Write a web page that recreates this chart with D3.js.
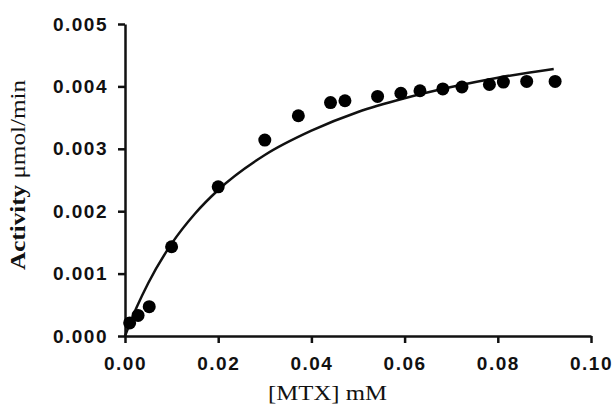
<!DOCTYPE html>
<html>
<head>
<meta charset="utf-8">
<script src="https://cdn.jsdelivr.net/npm/d3@7"></script>
<style>
  body { margin: 0; background: #fff; }
  .tick text { font-family: "Liberation Sans", Arial, sans-serif; font-weight: bold; font-size: 19px; fill: #111; }
</style>
</head>
<body>
<div id="chart-container"></div>
<script>
/* CONSTANTS AND GLOBALS */
const width = 615,
  height = 414;

// measured substrate concentrations (mM) and activities (umol/min)
const mtx = [0.001, 0.0028, 0.0052, 0.010, 0.020, 0.030, 0.0372, 0.0441, 0.0472, 0.0542,
  0.0592, 0.0633, 0.0682, 0.0723, 0.0782, 0.0812, 0.0862, 0.0923];
const activity = [0.00021, 0.00033, 0.00047, 0.00143, 0.00239, 0.00314, 0.00353, 0.00374, 0.00377, 0.00384,
  0.00389, 0.00393, 0.00396, 0.00399, 0.00403, 0.00407, 0.00408, 0.00408];

// fitted curve
const fitX = [0, 0.0025, 0.005, 0.01, 0.015, 0.02, 0.03, 0.04, 0.05, 0.06, 0.07, 0.08, 0.092];
const fitY = [0, 0.00046, 0.00085, 0.00148, 0.00196, 0.00234, 0.00290, 0.00329, 0.00359, 0.00381, 0.00399, 0.00414, 0.00428];

const xTicks = [0, 0.02, 0.04, 0.06, 0.08, 0.10];
const yTicks = [0, 0.001, 0.002, 0.003, 0.004, 0.005];

const points = mtx.map((x, i) => ({ x: x, y: activity[i] }));
const fit = fitX.map((x, i) => ({ x: x, y: fitY[i] }));

const svg = d3.select("#chart-container")
  .append("svg")
  .attr("width", width)
  .attr("height", height);

const xScale = d3.scaleLinear()
  .domain([0, 0.10])
  .range([125, 591]);

const yScale = d3.scaleLinear()
  .domain([0, 0.005])
  .range([336, 24]);

// + AXES
const xAxisGroup = svg.append("g")
  .attr("transform", `translate(0, ${yScale(0)})`)
  .call(d3.axisBottom(xScale)
    .tickValues(xTicks)
    .tickFormat(d3.format(".2f"))
    .tickSizeInner(7)
    .tickSizeOuter(0)
    .tickPadding(13));

const yAxisGroup = svg.append("g")
  .attr("transform", `translate(${xScale(0)}, 0)`)
  .call(d3.axisLeft(yScale)
    .tickValues(yTicks)
    .tickFormat(d3.format(".3f"))
    .tickSizeInner(7)
    .tickSizeOuter(0)
    .tickPadding(10));

svg.selectAll(".domain, .tick line")
  .attr("stroke", "#111")
  .attr("stroke-width", 2.5);

svg.selectAll(".tick text").attr("letter-spacing", "1.5px");
xAxisGroup.selectAll(".tick text").attr("dy", "0.75em");

// fitted line
const lineGen = d3.line()
  .x(d => xScale(d.x))
  .y(d => yScale(d.y))
  .curve(d3.curveMonotoneX);

svg.append("path")
  .datum(fit)
  .attr("fill", "none")
  .attr("stroke", "#111")
  .attr("stroke-width", 2.5)
  .attr("d", lineGen);

// data points
svg.selectAll(".dot")
  .data(points)
  .join("circle")
  .attr("class", "dot")
  .attr("cx", d => xScale(d.x))
  .attr("cy", d => yScale(d.y))
  .attr("r", 6.5)
  .attr("fill", "#000");

// axis titles
svg.append("text")
  .attr("x", 268)
  .attr("y", 400)
  .attr("font-family", "'Liberation Serif', 'Times New Roman', serif")
  .attr("font-size", 20)
  .attr("fill", "#111")
  .attr("textLength", 119)
  .attr("lengthAdjust", "spacingAndGlyphs")
  .text("[MTX] mM");

const yTitle = svg.append("text")
  .attr("transform", "translate(25, 175) rotate(-90)")
  .attr("text-anchor", "middle")
  .attr("font-family", "'Liberation Serif', 'Times New Roman', serif")
  .attr("font-size", 22)
  .attr("fill", "#111")
  .attr("textLength", 190)
  .attr("lengthAdjust", "spacingAndGlyphs");

yTitle.append("tspan").attr("font-weight", "bold").text("Activity");
yTitle.append("tspan").text(" μmol/min");
</script>
</body>
</html>
